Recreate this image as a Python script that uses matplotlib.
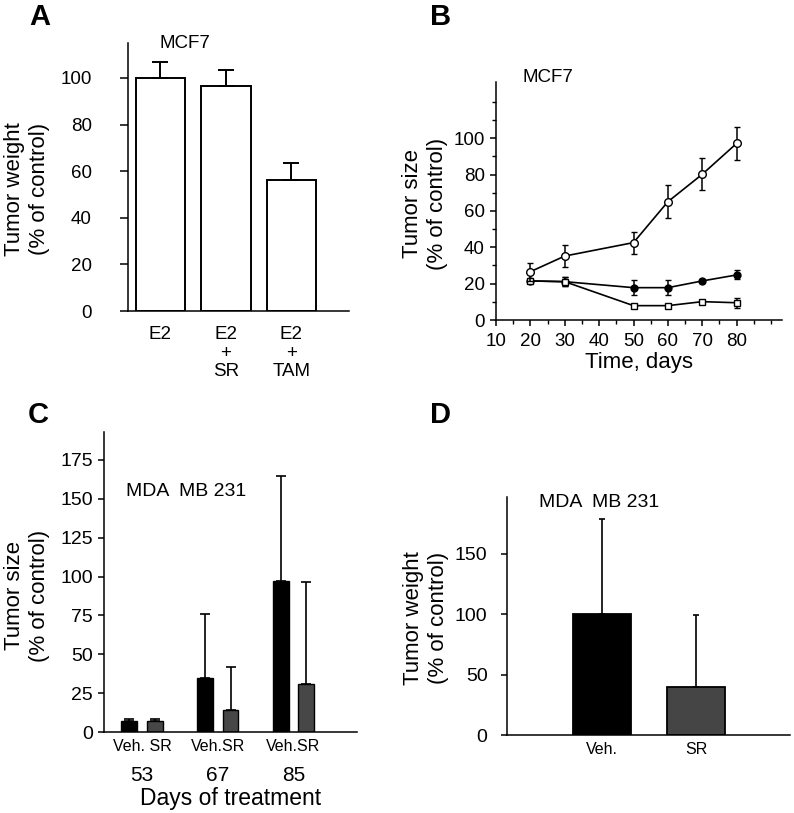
import matplotlib
matplotlib.use("Agg")
import matplotlib.pyplot as plt
from matplotlib.ticker import FixedLocator

plt.rcParams["font.family"] = ["Liberation Sans", "DejaVu Sans"]

# ---- data ----
# A: MCF7 tumour weight
a_groups = ["E2", "E2\n+\nSR", "E2\n+\nTAM"]
a_vals = [100, 96.5, 56]
a_err = [7, 7, 7.5]

# B: MCF7 tumour size over time
b_days = [20, 30, 50, 60, 70, 80]
b_open = [26.6, 35.2, 42.6, 65.1, 80.2, 97.2]
b_open_err = [5, 6, 6, 9, 8.7, 9]
b_filled = [21.5, 21.1, 17.8, 17.8, 21.5, 24.8]
b_filled_err = [0, 2.5, 4, 4, 1, 2.5]
b_square = [21.5, 21.1, 7.9, 7.9, 10.1, 9.5]
b_square_err = [0, 2.5, 0, 0, 0, 2.7]

# C: MDA MB 231 tumour size
c_days = ["53", "67", "85"]
c_veh = [7, 35, 97]
c_veh_err = [1.5, 41, 68]
c_sr = [7, 14, 31]
c_sr_err = [1.5, 27.5, 65.5]

# D: MDA MB 231 tumour weight
d_groups = ["Veh.", "SR"]
d_vals = [100, 40]
d_err = [79, 59]

W, H = 794, 813
fig = plt.figure(figsize=(W / 100, H / 100), dpi=100)


def add_ax(l, r, b, t):
    ax = fig.add_axes([l / W, 1 - b / H, (r - l) / W, (b - t) / H])
    ax.spines[["top", "right"]].set_visible(False)
    for s in ("left", "bottom"):
        ax.spines[s].set_linewidth(1.1)
    return ax


def ylab(x, y, txt):
    fig.text(x / W, 1 - y / H, txt, rotation=90, ha="center", va="center",
             fontsize=16, linespacing=1.25, multialignment="center")


def panel(x, y, s):
    fig.text(x / W, 1 - y / H, s, ha="center", va="center", fontsize=21, fontweight="bold")


# ---- A ----
ax = add_ax(128, 349, 311, 43)
xs = range(len(a_vals))
ax.bar(xs, a_vals, width=0.75, color="white", edgecolor="black", linewidth=1.4)
ax.errorbar(xs, a_vals, yerr=[[0] * 3, a_err], fmt="none", ecolor="black",
            elinewidth=1.4, capsize=5.5, capthick=1.4)
ax.set_xlim(-0.496, 2.878)
ax.set_ylim(0, 115)
ax.set_yticks(range(0, 101, 20))
ax.set_xticks(list(xs))
ax.set_xticklabels(a_groups, fontsize=13.5, linespacing=1.12)
ax.tick_params(axis="x", length=0, pad=11)
ax.tick_params(axis="y", length=6, width=1.1, pad=20, labelsize=13.5)
fig.text(185 / W, 1 - 43 / H, "MCF7", ha="center", va="center", fontsize=13.5)
ylab(27, 189, "Tumor weight\n(% of control)")
panel(40, 17, "A")

# ---- B ----
ax = add_ax(496, 782, 320, 82)
ax.errorbar(b_days, b_filled, yerr=b_filled_err, color="black", lw=1.2, marker="o", ms=5,
            mfc="black", mec="black", capsize=2.5, elinewidth=1.1, zorder=3)
ax.errorbar(b_days, b_square, yerr=b_square_err, color="black", lw=1.2, marker="s", ms=4.2,
            mfc="white", mec="black", mew=1.0, capsize=2.5, elinewidth=1.1, zorder=4)
ax.errorbar(b_days, b_open, yerr=b_open_err, color="black", lw=1.2, marker="o", ms=5.5,
            mfc="white", mec="black", mew=1.0, capsize=2.5, elinewidth=1.1, zorder=5)
ax.set_xlim(10, 93.2)
ax.set_ylim(0, 131)
ax.set_xticks(range(10, 81, 10))
ax.xaxis.set_minor_locator(FixedLocator([15, 25, 35, 45, 55, 65, 75, 85, 90]))
ax.set_yticks(range(0, 101, 20))
ax.yaxis.set_minor_locator(FixedLocator([10, 30, 50, 70, 90, 110, 120]))
ax.tick_params(which="major", length=4, width=1.1, labelsize=13.5)
ax.tick_params(which="minor", length=3, width=1.0)
ax.tick_params(axis="x", which="major", pad=5)
ax.tick_params(axis="y", which="major", pad=4)
ax.set_xlabel("Time, days", fontsize=16, labelpad=2)
fig.text(548 / W, 1 - 77 / H, "MCF7", ha="center", va="center", fontsize=13.5)
ylab(425, 204, "Tumor size\n(% of control)")
panel(441, 17, "B")

# ---- C ----
ax = add_ax(104, 357, 732, 432)
gx = range(len(c_days))
off, bw = 0.168, 0.21
vx = [g - off for g in gx]
sx = [g + off for g in gx]
ax.bar(vx, c_veh, width=bw, color="black", edgecolor="black", linewidth=1.0)
ax.bar(sx, c_sr, width=bw, color="#474747", edgecolor="black", linewidth=1.0)
ax.errorbar(vx, c_veh, yerr=[[0] * 3, c_veh_err], fmt="none", ecolor="black",
            elinewidth=1.2, capsize=3.3, capthick=1.2)
ax.errorbar(sx, c_sr, yerr=[[0] * 3, c_sr_err], fmt="none", ecolor="black",
            elinewidth=1.2, capsize=3.3, capthick=1.2)
ax.set_xlim(-0.502, 2.838)
ax.set_ylim(0, 193)
ax.set_yticks(range(0, 176, 25))
ax.set_xticks(list(gx))
ax.set_xticklabels(["Veh. SR", "Veh.SR", "Veh.SR"], fontsize=11.5)
ax.tick_params(axis="x", length=0, pad=5)
ax.tick_params(axis="y", length=4, width=1.1, pad=4, labelsize=14)
for g, d in zip(gx, c_days):
    ax.text(g, -27.7, d, ha="center", va="center", fontsize=15)
ax.set_xlabel("Days of treatment", fontsize=16.5, labelpad=24)
fig.text(186 / W, 1 - 491 / H, "MDA  MB 231", ha="center", va="center", fontsize=14)
ylab(27, 596, "Tumor size\n(% of control)")
panel(38, 415, "C")

# ---- D ----
ax = add_ax(507, 790, 735, 497)
dx = range(len(d_vals))
ax.bar(dx, d_vals, width=0.612, color=["black", "#454545"], edgecolor="black", linewidth=1.3)
ax.errorbar(dx, d_vals, yerr=[[0] * 2, d_err], fmt="none", ecolor="black",
            elinewidth=1.2, capsize=2.5, capthick=1.2)
ax.set_xlim(-1.0, 1.988)
ax.set_ylim(0, 197)
ax.set_yticks(range(0, 151, 50))
ax.set_xticks(list(dx))
ax.set_xticklabels(d_groups, fontsize=11.5)
ax.tick_params(axis="x", length=0, pad=5)
ax.tick_params(axis="y", length=4, width=1.1, pad=10, labelsize=14)
fig.text(599 / W, 1 - 502 / H, "MDA  MB 231", ha="center", va="center", fontsize=14)
ylab(426, 618, "Tumor weight\n(% of control)")
panel(440, 415, "D")

fig.savefig("out.png", dpi=100)
